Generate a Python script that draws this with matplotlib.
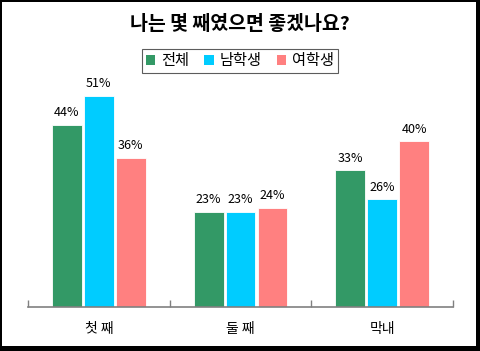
import numpy as np
import matplotlib.pyplot as plt
from matplotlib.patches import Rectangle, Patch

plt.rcParams['font.family'] = ['Noto Sans CJK KR', 'DejaVu Sans']

categories = ['첫 째', '둘 째', '막내']
series = ['전체', '남학생', '여학생']
total = [44, 23, 33]
boys = [51, 23, 26]
girls = [36, 24, 40]
colors = ['#339966', '#00CCFF', '#FF8080']

W, H = 480, 351
fig = plt.figure(figsize=(4.8, 3.51), dpi=100, facecolor='black')
# white inner panel, black frame around
fig.patches.append(Rectangle((2 / W, 5 / H), 474 / W, 344 / H, transform=fig.transFigure,
                             facecolor='white', edgecolor='none', zorder=-10))

ax = fig.add_axes([28 / W, (H - 307) / H, 425 / W, 237 / H])
ax.set_facecolor('none')

x = np.arange(len(categories))
width = 0.21
offset = 0.225
for i, (vals, c) in enumerate(zip([total, boys, girls], colors)):
    bars = ax.bar(x + (i - 1) * offset, vals, width, color=c, edgecolor='white', linewidth=0.6)
    for b, v in zip(bars, vals):
        ax.annotate(f'{v}%', (b.get_x() + b.get_width() / 2, v), xytext=(0, 4),
                    textcoords='offset points', ha='center', va='bottom', fontsize=9)

ax.set_xlim(-0.5, 2.5)
ax.set_ylim(0, 57.2)
for s in ['left', 'right', 'top']:
    ax.spines[s].set_visible(False)
ax.spines['bottom'].set_color('#808080')
ax.spines['bottom'].set_linewidth(1.2)
ax.set_yticks([])
ax.set_xticks([-0.5, 0.5, 1.5, 2.5])
ax.set_xticklabels([])
ax.tick_params(axis='x', which='major', direction='in', length=5, color='#808080', width=1)
ax.set_xticks(x, minor=True)
ax.set_xticklabels(categories, minor=True, fontsize=10)
ax.tick_params(axis='x', which='minor', length=0, pad=11)

fig.text(0.5, 1 - 25 / H, '나는 몇 째였으면 좋겠나요?', ha='center', va='center',
         fontsize=14, fontweight='bold')

handles = [Patch(facecolor=c, edgecolor='none') for c in colors]
leg = fig.legend(handles, series, loc='center', bbox_to_anchor=(0.5, 1 - 61 / H), ncol=3,
                 fontsize=11, frameon=True, fancybox=False, handlelength=0.6, handleheight=0.6,
                 handletextpad=0.4, columnspacing=1.0, borderpad=0.25)
leg.get_frame().set_edgecolor('#333333')
leg.get_frame().set_linewidth(0.8)

fig.savefig('out.png', dpi=100, facecolor='black')
